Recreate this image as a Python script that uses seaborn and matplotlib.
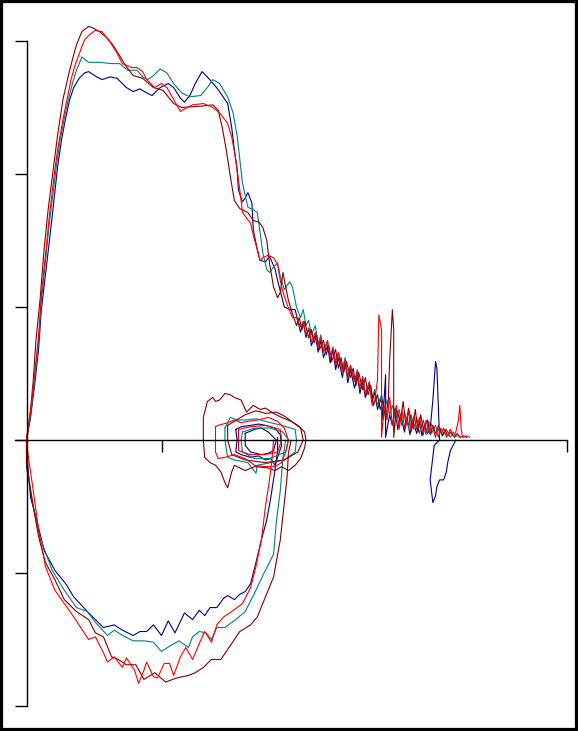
import pandas as pd
import seaborn as sns
import matplotlib
matplotlib.use("Agg")
import matplotlib.pyplot as plt
from matplotlib.patches import Rectangle

# flow-volume loops, volume in L, flow in L/s, four trials
trials = ["navy", "teal", "darkred", "red"]
colours = {"navy": "#000080", "teal": "#008080", "darkred": "#800000", "red": "#ff0000"}

navy_expiration = [
    (0.00, 0.00), (0.03, 0.17), (0.06, 0.41), (0.09, 0.69), (0.11, 0.98), (0.14, 1.24), (0.17, 1.50),
    (0.20, 1.77), (0.23, 2.05), (0.26, 2.26), (0.29, 2.42), (0.32, 2.56), (0.35, 2.65), (0.39, 2.72),
    (0.43, 2.76), (0.46, 2.77), (0.52, 2.73), (0.56, 2.71), (0.62, 2.73), (0.67, 2.72), (0.74, 2.65),
    (0.79, 2.62), (0.84, 2.64), (0.89, 2.61), (0.93, 2.59), (0.99, 2.65), (1.05, 2.68), (1.09, 2.65),
    (1.14, 2.57), (1.17, 2.54), (1.21, 2.59), (1.25, 2.68), (1.30, 2.77), (1.34, 2.73), (1.40, 2.66),
    (1.43, 2.62), (1.49, 2.53), (1.52, 2.35), (1.54, 2.18), (1.56, 2.03), (1.57, 1.88), (1.60, 1.79),
    (1.62, 1.82), (1.64, 1.86), (1.67, 1.78), (1.68, 1.58), (1.71, 1.43), (1.73, 1.35), (1.77, 1.34),
    (1.80, 1.38), (1.84, 1.29), (1.86, 1.20), (1.89, 1.08), (1.91, 1.00), (1.95, 0.98), (1.99, 0.98),
    (2.03, 0.81), (2.05, 0.89), (2.07, 0.77), (2.09, 0.84), (2.11, 0.71), (2.14, 0.79), (2.16, 0.66),
    (2.18, 0.75), (2.20, 0.62), (2.23, 0.71), (2.25, 0.58), (2.27, 0.68), (2.29, 0.53), (2.31, 0.62),
    (2.34, 0.47), (2.36, 0.59), (2.38, 0.43), (2.40, 0.53), (2.43, 0.39), (2.45, 0.49), (2.47, 0.35),
    (2.49, 0.44), (2.51, 0.32), (2.54, 0.41), (2.56, 0.29), (2.58, 0.36), (2.60, 0.23), (2.63, 0.32),
    (2.64, 0.15), (2.66, 0.49), (2.66, 0.02), (2.69, 0.19), (2.71, 0.11), (2.73, 0.24), (2.75, 0.08),
    (2.77, 0.19), (2.80, 0.06), (2.82, 0.17), (2.84, 0.04), (2.86, 0.15), (2.89, 0.05), (2.91, 0.14),
    (2.93, 0.03), (2.95, 0.12), (2.97, 0.05), (2.99, 0.08), (3.01, 0.30), (3.03, 0.59), (3.04, 0.54),
    (3.06, 0.00), (3.02, -0.04), (2.99, -0.30), (3.01, -0.47), (3.03, -0.42), (3.04, -0.35),
    (3.06, -0.30), (3.09, -0.30), (3.11, -0.24), (3.12, -0.17), (3.14, -0.08), (3.16, -0.04), (3.18, 0.00),
]
teal_expiration = [
    (0.00, 0.00), (0.03, 0.19), (0.06, 0.45), (0.09, 0.75), (0.11, 1.05), (0.14, 1.34), (0.17, 1.64),
    (0.20, 1.88), (0.22, 2.05), (0.25, 2.26), (0.28, 2.42), (0.31, 2.56), (0.34, 2.68), (0.37, 2.78),
    (0.41, 2.88), (0.46, 2.84), (0.54, 2.84), (0.63, 2.83), (0.69, 2.83), (0.75, 2.78), (0.82, 2.78),
    (0.86, 2.73), (0.90, 2.71), (0.94, 2.74), (0.99, 2.79), (1.04, 2.76), (1.09, 2.68), (1.15, 2.61),
    (1.21, 2.58), (1.29, 2.59), (1.34, 2.65), (1.38, 2.71), (1.43, 2.68), (1.49, 2.58), (1.53, 2.46),
    (1.56, 2.29), (1.58, 2.11), (1.60, 1.93), (1.64, 1.75), (1.68, 1.73), (1.71, 1.71), (1.73, 1.56),
    (1.75, 1.41), (1.78, 1.28), (1.80, 1.26), (1.83, 1.30), (1.86, 1.33), (1.88, 1.23), (1.91, 1.13),
    (1.95, 1.19), (1.97, 1.15), (2.00, 1.00), (2.03, 0.92), (2.05, 0.98), (2.07, 0.86), (2.09, 0.90),
    (2.11, 0.79), (2.14, 0.86), (2.16, 0.71), (2.18, 0.79), (2.20, 0.68), (2.23, 0.75), (2.25, 0.62),
    (2.27, 0.70), (2.29, 0.59), (2.31, 0.66), (2.34, 0.53), (2.36, 0.62), (2.38, 0.47), (2.40, 0.56),
    (2.43, 0.44), (2.45, 0.53), (2.47, 0.39), (2.49, 0.48), (2.51, 0.35), (2.54, 0.44), (2.56, 0.32),
    (2.58, 0.38), (2.60, 0.26), (2.63, 0.34), (2.65, 0.21), (2.67, 0.30), (2.69, 0.19), (2.71, 0.26),
    (2.74, 0.15), (2.76, 0.23), (2.78, 0.11), (2.80, 0.21), (2.83, 0.09), (2.85, 0.19), (2.87, 0.08),
    (2.89, 0.17), (2.91, 0.05), (2.94, 0.15), (2.96, 0.04), (2.98, 0.14), (3.00, 0.05), (3.03, 0.11),
    (3.05, 0.02), (3.07, 0.09), (3.09, 0.04), (3.11, 0.08), (3.14, 0.02), (3.16, 0.06), (3.18, 0.03),
    (3.21, 0.03),
]
darkred_expiration = [
    (0.00, 0.00), (0.03, 0.23), (0.05, 0.45), (0.07, 0.75), (0.10, 1.05), (0.13, 1.43), (0.16, 1.73),
    (0.20, 2.05), (0.23, 2.29), (0.27, 2.56), (0.31, 2.74), (0.34, 2.86), (0.37, 2.97), (0.41, 3.07),
    (0.46, 3.11), (0.49, 3.10), (0.54, 3.07), (0.60, 3.02), (0.64, 2.97), (0.69, 2.89), (0.73, 2.82),
    (0.79, 2.74), (0.86, 2.72), (0.94, 2.65), (1.01, 2.63), (1.09, 2.53), (1.15, 2.50), (1.29, 2.51),
    (1.38, 2.52), (1.42, 2.48), (1.45, 2.35), (1.48, 2.18), (1.51, 1.98), (1.54, 1.80), (1.58, 1.74),
    (1.64, 1.71), (1.68, 1.65), (1.72, 1.64), (1.75, 1.60), (1.78, 1.50), (1.80, 1.33), (1.83, 1.15),
    (1.86, 1.07), (1.88, 1.11), (1.90, 1.26), (1.92, 1.15), (1.94, 1.05), (1.97, 0.95), (2.00, 0.86),
    (2.02, 0.92), (2.04, 0.83), (2.06, 0.89), (2.09, 0.77), (2.11, 0.83), (2.13, 0.73), (2.15, 0.79),
    (2.17, 0.68), (2.20, 0.75), (2.22, 0.64), (2.24, 0.71), (2.26, 0.59), (2.29, 0.68), (2.31, 0.54),
    (2.33, 0.62), (2.35, 0.51), (2.37, 0.59), (2.40, 0.47), (2.42, 0.54), (2.44, 0.41), (2.46, 0.51),
    (2.49, 0.38), (2.51, 0.47), (2.53, 0.34), (2.55, 0.41), (2.57, 0.26), (2.60, 0.34), (2.62, 0.23),
    (2.64, 0.30), (2.66, 0.15), (2.68, 0.30), (2.69, 0.60), (2.71, 0.98), (2.72, 0.83), (2.72, 0.02),
    (2.74, 0.23), (2.77, 0.14), (2.79, 0.29), (2.81, 0.11), (2.83, 0.24), (2.86, 0.09), (2.88, 0.23),
    (2.90, 0.06), (2.92, 0.19), (2.94, 0.08), (2.97, 0.15), (2.99, 0.04), (3.01, 0.11), (3.03, 0.05),
    (3.06, 0.09), (3.08, 0.03), (3.10, 0.08), (3.12, 0.03), (3.14, 0.06), (3.17, 0.02), (3.19, 0.05),
    (3.21, 0.02), (3.24, 0.03), (3.26, 0.02),
]
red_expiration = [
    (0.00, 0.00), (0.03, 0.21), (0.06, 0.49), (0.09, 0.79), (0.11, 1.09), (0.14, 1.39), (0.17, 1.69),
    (0.20, 1.95), (0.23, 2.18), (0.27, 2.41), (0.30, 2.56), (0.33, 2.71), (0.36, 2.82), (0.40, 2.93),
    (0.43, 3.01), (0.47, 3.05), (0.51, 3.08), (0.56, 3.07), (0.62, 2.99), (0.67, 2.91), (0.71, 2.83),
    (0.78, 2.80), (0.82, 2.80), (0.86, 2.77), (0.89, 2.71), (0.95, 2.65), (1.00, 2.68), (1.04, 2.65),
    (1.09, 2.56), (1.14, 2.47), (1.19, 2.50), (1.23, 2.52), (1.31, 2.53), (1.38, 2.50), (1.43, 2.46),
    (1.49, 2.38), (1.52, 2.28), (1.55, 2.11), (1.58, 1.88), (1.60, 1.71), (1.66, 1.63), (1.68, 1.54),
    (1.71, 1.43), (1.73, 1.35), (1.75, 1.37), (1.79, 1.39), (1.83, 1.37), (1.86, 1.32), (1.88, 1.20),
    (1.90, 1.11), (1.93, 1.02), (1.97, 0.92), (2.00, 0.92), (2.03, 0.85), (2.05, 0.89), (2.07, 0.79),
    (2.09, 0.84), (2.11, 0.74), (2.14, 0.81), (2.16, 0.69), (2.18, 0.77), (2.20, 0.66), (2.23, 0.74),
    (2.25, 0.62), (2.27, 0.69), (2.29, 0.56), (2.31, 0.66), (2.34, 0.51), (2.36, 0.60), (2.38, 0.47),
    (2.40, 0.56), (2.43, 0.44), (2.45, 0.51), (2.47, 0.38), (2.49, 0.47), (2.51, 0.34), (2.54, 0.43),
    (2.56, 0.26), (2.58, 0.30), (2.60, 0.45), (2.61, 0.94), (2.63, 0.83), (2.63, 0.02), (2.65, 0.26),
    (2.67, 0.15), (2.69, 0.32), (2.71, 0.11), (2.74, 0.26), (2.76, 0.08), (2.78, 0.23), (2.80, 0.09),
    (2.83, 0.21), (2.85, 0.06), (2.87, 0.18), (2.89, 0.08), (2.91, 0.17), (2.94, 0.04), (2.96, 0.15),
    (2.98, 0.06), (3.00, 0.12), (3.03, 0.02), (3.05, 0.11), (3.07, 0.05), (3.09, 0.09), (3.11, 0.02),
    (3.14, 0.08), (3.16, 0.03), (3.18, 0.06), (3.20, 0.15), (3.21, 0.26), (3.22, 0.08), (3.23, 0.02),
    (3.26, 0.03), (3.28, 0.02),
]

navy_inspiration = [
    (0.00, 0.00), (0.00, -0.08), (0.03, -0.43), (0.08, -0.62), (0.13, -0.83), (0.21, -0.98), (0.29, -1.08),
    (0.35, -1.18), (0.46, -1.30), (0.57, -1.41), (0.65, -1.39), (0.71, -1.43), (0.79, -1.47), (0.84, -1.44),
    (0.89, -1.44), (0.94, -1.39), (1.00, -1.47), (1.05, -1.36), (1.10, -1.45), (1.17, -1.30), (1.23, -1.35),
    (1.28, -1.28), (1.32, -1.32), (1.36, -1.26), (1.41, -1.26), (1.46, -1.19), (1.49, -1.17), (1.54, -1.20),
    (1.58, -1.16), (1.62, -1.14), (1.66, -1.08), (1.70, -0.92), (1.74, -0.75), (1.78, -0.60), (1.81, -0.43),
    (1.84, -0.23), (1.86, -0.08), (1.86, 0.02),
]
teal_inspiration = [
    (0.00, 0.00), (0.00, -0.17), (0.05, -0.50), (0.10, -0.73), (0.19, -0.98), (0.28, -1.13), (0.37, -1.26),
    (0.45, -1.29), (0.51, -1.37), (0.60, -1.47), (0.65, -1.43), (0.73, -1.48), (0.79, -1.51), (0.87, -1.51),
    (0.94, -1.52), (1.00, -1.59), (1.06, -1.55), (1.13, -1.51), (1.20, -1.56), (1.23, -1.48), (1.28, -1.44),
    (1.33, -1.45), (1.37, -1.50), (1.41, -1.41), (1.47, -1.41), (1.55, -1.35), (1.62, -1.29), (1.69, -1.15),
    (1.76, -1.00), (1.83, -0.86), (1.85, -0.62), (1.88, -0.38), (1.90, -0.13), (1.92, 0.00),
]
darkred_inspiration = [
    (0.00, 0.00), (0.00, -0.20), (0.05, -0.50), (0.09, -0.73), (0.14, -0.92), (0.21, -1.05), (0.28, -1.20),
    (0.37, -1.29), (0.46, -1.35), (0.51, -1.45), (0.57, -1.48), (0.63, -1.63), (0.68, -1.65), (0.74, -1.69),
    (0.81, -1.69), (0.87, -1.80), (0.95, -1.75), (1.03, -1.82), (1.11, -1.79), (1.20, -1.77), (1.25, -1.75),
    (1.31, -1.71), (1.37, -1.65), (1.44, -1.65), (1.50, -1.56), (1.58, -1.44), (1.66, -1.39), (1.71, -1.33),
    (1.77, -1.18), (1.83, -1.03), (1.88, -0.75), (1.91, -0.47), (1.93, -0.28), (1.94, -0.10), (1.96, 0.00),
]
red_inspiration = [
    (0.00, 0.00), (0.01, -0.10), (0.05, -0.38), (0.09, -0.68), (0.14, -0.95), (0.21, -1.13), (0.28, -1.23),
    (0.35, -1.33), (0.46, -1.50), (0.51, -1.48), (0.57, -1.60), (0.60, -1.67), (0.65, -1.63), (0.71, -1.71),
    (0.74, -1.64), (0.80, -1.73), (0.83, -1.83), (0.87, -1.73), (0.89, -1.67), (0.94, -1.78), (0.97, -1.79),
    (1.02, -1.68), (1.06, -1.68), (1.09, -1.77), (1.14, -1.63), (1.18, -1.56), (1.23, -1.65), (1.28, -1.53),
    (1.32, -1.44), (1.37, -1.52), (1.41, -1.39), (1.46, -1.33), (1.52, -1.29), (1.60, -1.23), (1.66, -1.11),
    (1.70, -0.95), (1.74, -0.75), (1.77, -0.50), (1.80, -0.30), (1.82, -0.13), (1.83, 0.00),
]

# tidal breathing loops after the manoeuvre
navy_tidal_outer = [
    (1.55, 0.08), (1.59, 0.10), (1.66, 0.11), (1.72, 0.12), (1.77, 0.11), (1.84, 0.09), (1.88, 0.04),
    (1.89, -0.04), (1.86, -0.13), (1.84, -0.19), (1.81, -0.14), (1.77, -0.15), (1.72, -0.12), (1.66, -0.13),
    (1.59, -0.11), (1.55, -0.09), (1.56, 0.00), (1.55, 0.08),
]
navy_tidal_inner = [
    (1.62, 0.05), (1.69, 0.08), (1.74, 0.09), (1.79, 0.06), (1.85, 0.00), (1.83, -0.08), (1.79, -0.10),
    (1.74, -0.11), (1.66, -0.09), (1.62, -0.04), (1.62, 0.05),
]
teal_tidal_outer = [
    (1.47, 0.09), (1.51, 0.17), (1.56, 0.15), (1.62, 0.15), (1.70, 0.16), (1.77, 0.14), (1.89, 0.11),
    (1.99, 0.08), (2.00, 0.00), (1.99, -0.09), (1.91, -0.15), (1.81, -0.17), (1.71, -0.19), (1.70, -0.25),
    (1.64, -0.17), (1.54, -0.15), (1.49, -0.13), (1.47, 0.00), (1.47, 0.09),
]
teal_tidal_inner = [
    (1.60, 0.06), (1.69, 0.09), (1.80, 0.09), (1.90, 0.06), (1.94, 0.00), (1.92, -0.09), (1.80, -0.14),
    (1.69, -0.14), (1.60, -0.09), (1.59, 0.00), (1.60, 0.06),
]
darkred_tidal_outer = [
    (1.31, 0.00), (1.31, 0.17), (1.34, 0.29), (1.38, 0.32), (1.40, 0.29), (1.43, 0.30), (1.47, 0.35),
    (1.51, 0.34), (1.54, 0.32), (1.59, 0.30), (1.63, 0.21), (1.68, 0.26), (1.73, 0.23), (1.77, 0.24),
    (1.83, 0.20), (1.89, 0.17), (1.96, 0.14), (2.01, 0.11), (2.06, 0.06), (2.07, 0.00), (2.06, -0.06),
    (2.03, -0.14), (1.99, -0.19), (1.94, -0.23), (1.89, -0.20), (1.84, -0.23), (1.79, -0.21), (1.69, -0.20),
    (1.62, -0.23), (1.54, -0.19), (1.52, -0.24), (1.49, -0.36), (1.47, -0.32), (1.44, -0.24), (1.40, -0.19),
    (1.36, -0.17), (1.32, -0.13), (1.31, 0.00),
]
darkred_tidal_inner = [
    (1.49, 0.11), (1.62, 0.19), (1.70, 0.22), (1.77, 0.20), (1.85, 0.21), (1.91, 0.18), (2.03, 0.09),
    (2.05, 0.00), (2.01, -0.09), (1.91, -0.15), (1.77, -0.17), (1.62, -0.15), (1.52, -0.11), (1.49, 0.00),
    (1.49, 0.11),
]
red_tidal_outer = [
    (1.40, 0.10), (1.42, 0.11), (1.49, 0.13), (1.54, 0.15), (1.59, 0.13), (1.64, 0.14), (1.71, 0.15),
    (1.79, 0.17), (1.86, 0.14), (1.91, 0.09), (1.94, 0.00), (1.92, -0.09), (1.89, -0.17), (1.84, -0.20),
    (1.77, -0.20), (1.69, -0.19), (1.62, -0.14), (1.54, -0.11), (1.47, -0.13), (1.42, -0.14), (1.40, -0.09),
    (1.40, 0.10),
]
red_tidal_inner = [
    (1.57, 0.08), (1.66, 0.10), (1.77, 0.11), (1.88, 0.08), (1.89, 0.00), (1.86, -0.09), (1.77, -0.11),
    (1.66, -0.11), (1.57, -0.08), (1.57, 0.08),
]

segments = [
    ("navy", "expiration", navy_expiration), ("navy", "inspiration", navy_inspiration),
    ("navy", "tidal_outer", navy_tidal_outer), ("navy", "tidal_inner", navy_tidal_inner),
    ("teal", "expiration", teal_expiration), ("teal", "inspiration", teal_inspiration),
    ("teal", "tidal_outer", teal_tidal_outer), ("teal", "tidal_inner", teal_tidal_inner),
    ("darkred", "expiration", darkred_expiration), ("darkred", "inspiration", darkred_inspiration),
    ("darkred", "tidal_outer", darkred_tidal_outer), ("darkred", "tidal_inner", darkred_tidal_inner),
    ("red", "expiration", red_expiration), ("red", "inspiration", red_inspiration),
    ("red", "tidal_outer", red_tidal_outer), ("red", "tidal_inner", red_tidal_inner),
]

rows = []
for trial, part, pts in segments:
    for i, (vol, flow) in enumerate(pts):
        rows.append({"trial": trial, "segment": f"{trial}_{part}", "order": i,
                     "volume": vol, "flow": flow})
df = pd.DataFrame(rows)

sns.set_style("white")
fig = plt.figure(figsize=(5.78, 7.31), dpi=100)
ax = fig.add_axes([0, 0, 1, 1])

sns.lineplot(data=df, x="volume", y="flow", hue="trial", hue_order=trials, palette=colours,
             units="segment", estimator=None, sort=False, legend=False, linewidth=0.8,
             ax=ax)

ax.set_xlim(-26.5 / 135, (578 - 26.5) / 135)
ax.set_ylim((440 - 731) / 133, 440 / 133)
ax.set_facecolor("white")
ax.set_xlabel("")
ax.set_ylabel("")

for side in ["top", "right"]:
    ax.spines[side].set_visible(False)
ax.spines["left"].set_position(("data", 0))
ax.spines["bottom"].set_position(("data", 0))
ax.spines["left"].set_bounds(-2, 3)
ax.spines["bottom"].set_bounds(-0.085, 4)
for side in ["left", "bottom"]:
    ax.spines[side].set_color("black")
    ax.spines[side].set_linewidth(1.0)
    ax.spines[side].set_zorder(3)

ax.set_xticks([1, 4])
ax.set_yticks([-2, -1, 0, 1, 2, 3])
ax.tick_params(axis="both", direction="out", length=8.5, width=1.0, color="black",
               labelbottom=False, labelleft=False, bottom=True, left=True)

fig.patches.append(Rectangle((0, 0), 1, 1, transform=fig.transFigure, fill=False,
                             edgecolor="black", linewidth=4.5, zorder=10))

fig.savefig("out.png", dpi=100)
